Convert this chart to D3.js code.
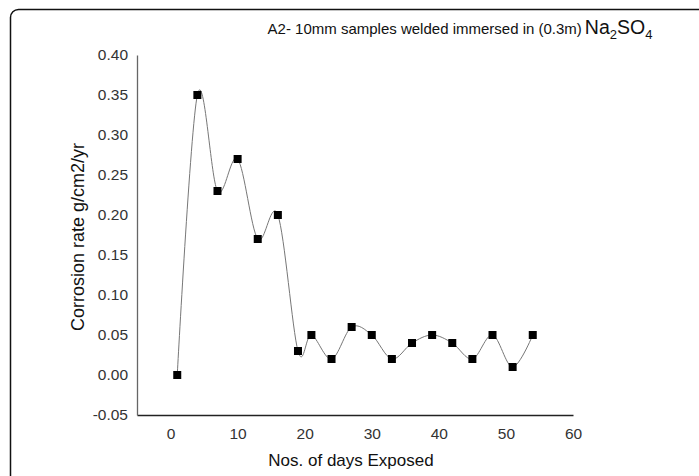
<!DOCTYPE html>
<html>
<head>
<meta charset="utf-8">
<script src="https://cdn.jsdelivr.net/npm/d3@7"></script>
<style>
  body { margin: 0; background: #fff; }
  svg { display: block; font-family: "Liberation Sans", Arial, sans-serif; }
</style>
</head>
<body>
<div id="wrapper"></div>
<script>
const days = [1, 4, 7, 10, 13, 16, 19, 21, 24, 27, 30, 33, 36, 39, 42, 45, 48, 51, 54];
const rates = [0.00, 0.35, 0.23, 0.27, 0.17, 0.20, 0.03, 0.05, 0.02, 0.06, 0.05, 0.02, 0.04, 0.05, 0.04, 0.02, 0.05, 0.01, 0.05];
const xTicks = [0, 10, 20, 30, 40, 50, 60];
const yTicks = [-0.05, 0, 0.05, 0.10, 0.15, 0.20, 0.25, 0.30, 0.35, 0.40];

function drawChart(){
	const dataset = days.map((d, i) => ({day: d, rate: rates[i]}));
	const xAccessor = d => d.day;
	const yAccessor = d => d.rate;

	let dimensions = {
		width: 699,
		height: 476,
		margin: {top: 55, right: 126, bottom: 61, left: 137}
	};
	dimensions.boundedWidth = dimensions.width - dimensions.margin.left - dimensions.margin.right;
	dimensions.boundedHeight = dimensions.height - dimensions.margin.top - dimensions.margin.bottom;

	const wrapper = d3.select("#wrapper").append("svg")
		.attr("width", dimensions.width)
		.attr("height", dimensions.height);

	// outer frame, runs off the bottom/right edge
	wrapper.append("rect")
		.attr("x", 10.5).attr("y", 9.5)
		.attr("width", 720).attr("height", 500)
		.attr("rx", 8)
		.attr("fill", "none")
		.attr("stroke", "#111")
		.attr("stroke-width", 1.5);

	const bounds = wrapper.append("g")
		.attr("transform", `translate(${dimensions.margin.left},${dimensions.margin.top})`);

	const xScaler = d3.scaleLinear()
		.domain([-5, 60])
		.range([0, dimensions.boundedWidth]);

	const yScaler = d3.scaleLinear()
		.domain([-0.05, 0.40])
		.range([dimensions.boundedHeight, 0]);

	const fmtY = d => d3.format(".2f")(d).replace("\u2212", "-");

	const xAxisGen = d3.axisBottom(xScaler).tickValues(xTicks).tickSize(0).tickPadding(13).tickFormat(d3.format("d"));
	const yAxisGen = d3.axisLeft(yScaler).tickValues(yTicks).tickSize(0).tickPadding(9).tickFormat(fmtY);

	const axisX = bounds.append("g")
		.attr("transform", `translate(0,${dimensions.boundedHeight})`)
		.call(xAxisGen)
		.attr("font-size", null)
		.attr("font-family", null);
	axisX.select(".domain").attr("stroke", "#222").attr("stroke-width", 1.3);
	axisX.selectAll("text").style("font-size", "15.5px").attr("fill", "#333");

	const axisY = bounds.append("g").call(yAxisGen)
		.attr("font-size", null)
		.attr("font-family", null);
	axisY.select(".domain").attr("stroke", "#666").attr("stroke-width", 1.3);
	axisY.selectAll("text").style("font-size", "15.5px").attr("fill", "#333");

	const lineGen = d3.line()
		.x(d => xScaler(xAccessor(d)))
		.y(d => yScaler(yAccessor(d)))
		.curve(d3.curveCardinal.tension(0));

	bounds.append("path")
		.attr("d", lineGen(dataset))
		.attr("fill", "none")
		.attr("stroke", "#777")
		.attr("stroke-width", 1);

	const size = 8;
	bounds.selectAll(".marker")
		.data(dataset)
		.enter()
		.append("rect")
		.attr("class", "marker")
		.attr("x", d => xScaler(xAccessor(d)) - size/2)
		.attr("y", d => yScaler(yAccessor(d)) - size/2)
		.attr("width", size)
		.attr("height", size)
		.attr("fill", "#000");

	// titles
	const title = wrapper.append("text")
		.attr("x", 460)
		.attr("y", 34)
		.attr("text-anchor", "middle")
		.attr("fill", "#111");
	title.append("tspan").attr("font-size", "15px").text("A2- 10mm samples welded immersed in (0.3m)\u2009");
	title.append("tspan").attr("font-size", "19.5px").text("Na");
	title.append("tspan").attr("font-size", "13px").attr("dy", 5).text("2");
	title.append("tspan").attr("font-size", "19.5px").attr("dy", -5).text("SO");
	title.append("tspan").attr("font-size", "13px").attr("dy", 5).text("4");

	wrapper.append("text")
		.attr("x", 351)
		.attr("y", 466)
		.attr("text-anchor", "middle")
		.attr("font-size", "17px")
		.attr("fill", "#111")
		.text("Nos. of days Exposed");

	wrapper.append("text")
		.attr("transform", `translate(84,237) rotate(-90)`)
		.attr("text-anchor", "middle")
		.attr("font-size", "18px")
		.attr("fill", "#111")
		.text("Corrosion rate g/cm2/yr");
}

drawChart();
</script>
</body>
</html>
